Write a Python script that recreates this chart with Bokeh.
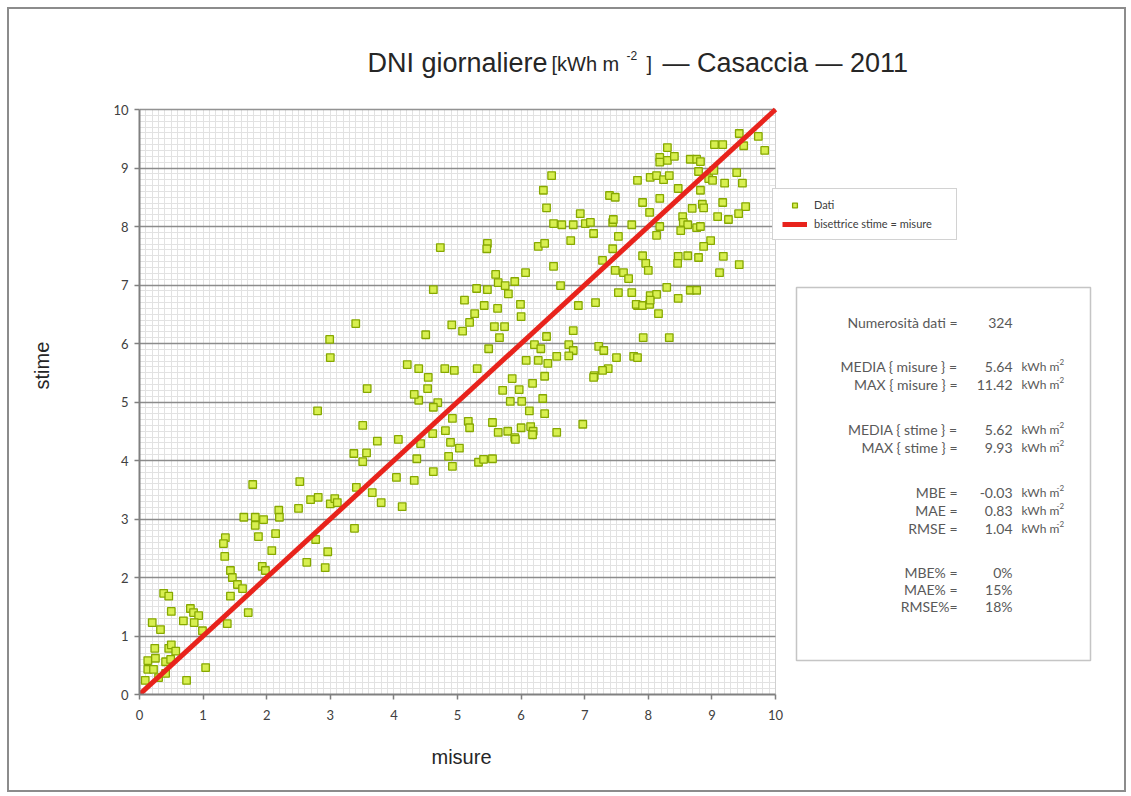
from bokeh.plotting import figure
from bokeh.models import (Range1d, Label, BoxAnnotation, Legend, LegendItem,
                          SingleIntervalTicker, Title)
from bokeh.embed import file_html
from bokeh.resources import INLINE

# ---------------- data ----------------
misure = [
    0.09, 0.13, 0.22, 0.30, 0.41, 0.13, 0.25, 0.41, 0.49, 0.24, 0.46, 0.50, 0.57, 0.74, 1.04,
    0.20, 0.33, 0.38, 0.46, 0.50, 0.69, 0.80, 0.85, 0.93, 0.86, 0.99, 1.38, 1.71, 1.43, 1.43,
    1.46, 1.54, 1.62, 1.35, 1.32, 1.34, 1.93, 1.98, 2.08, 1.87, 2.14, 1.64, 1.82, 1.95, 1.82,
    2.19, 2.20, 2.50, 1.78, 2.52, 2.69, 2.81, 3.00, 3.07, 3.11, 2.63, 2.96, 2.92, 2.77, 3.38,
    2.80, 3.51, 3.74, 4.07, 3.37, 3.57, 3.51, 3.41, 3.66, 3.80, 4.04, 4.13, 4.32, 4.36, 4.62,
    4.92, 4.86, 4.89, 5.03, 4.81, 4.61, 4.42, 4.92, 5.17, 4.39, 4.69, 4.62, 3.40, 2.99, 3.00,
    3.58,
    4.73, 5.47, 5.46, 6.27, 6.37, 6.78, 6.51, 6.64, 6.82, 7.01, 7.09, 7.14, 7.44, 7.74, 7.53,
    7.44, 6.51, 7.28, 6.07, 5.60, 5.64, 5.75, 5.90, 5.80, 6.62, 4.62, 5.30, 5.47, 7.48, 7.61,
    7.69, 7.53, 7.74, 7.83, 5.11, 5.42, 5.63, 5.99, 6.00, 6.90, 7.17, 5.27, 5.19, 4.91, 5.08,
    5.58, 5.74, 4.50, 5.66, 6.82, 6.40, 5.49, 6.21, 6.31, 6.75, 6.82, 6.75, 7.22, 7.30, 7.50,
    7.77, 6.56, 6.08, 6.27, 6.42, 7.37, 7.28, 7.15, 7.14, 4.21, 4.39, 4.80, 4.95, 5.31, 4.54,
    5.86, 6.37, 6.18, 4.53, 5.71, 5.97, 4.32, 5.83, 6.01, 6.34, 6.13, 6.37, 5.19, 5.55, 6.97,
    5.64, 5.79, 6.00, 6.15, 6.19, 6.18, 5.90, 5.91, 6.56, 5.33, 5.41, 5.55,
    7.92, 8.33, 7.83,
    9.43, 9.73, 9.04, 9.17, 9.50, 9.83, 8.30, 8.18, 8.30, 8.41, 8.18, 8.66, 8.76, 8.82, 8.79,
    9.39, 9.03, 8.95, 9.01, 8.03, 8.13, 8.24, 8.33, 7.83, 9.20, 9.48, 8.47, 8.82, 7.39, 7.48,
    8.18, 7.91, 9.17, 8.85, 8.87, 9.53, 8.69, 9.42, 8.02, 6.93, 9.09, 9.26, 7.45, 8.18, 8.54,
    8.55, 8.62, 8.76, 8.82, 8.51, 8.13, 8.98, 8.87, 7.91, 7.96, 8.00, 8.47, 8.62, 8.46, 8.79,
    9.18, 9.43, 9.12, 8.29, 8.66, 8.76, 8.03, 8.13, 8.47, 7.81, 7.91, 8.02, 8.03, 8.16,
    6.35, 6.48, 6.40,
]
stime = [
    0.24, 0.43, 0.43, 0.29, 0.36, 0.58, 0.62, 0.56, 0.60, 0.79, 0.79, 0.85, 0.74, 0.24, 0.46,
    1.23, 1.11, 1.73, 1.68, 1.42, 1.26, 1.47, 1.40, 1.35, 1.23, 1.09, 1.21, 1.40, 1.68, 2.12,
    2.00, 1.88, 1.81, 2.68, 2.58, 2.36, 2.19, 2.12, 2.46, 2.70, 2.75, 3.03, 3.03, 2.99, 2.89,
    3.15, 3.03, 3.18, 3.59, 3.64, 3.33, 3.37, 3.26, 3.35, 3.28, 2.26, 2.44, 2.17, 2.65, 2.84,
    4.85, 4.60, 4.33, 4.36, 4.12, 4.13, 3.98, 3.54, 3.45, 3.28, 3.71, 3.21, 3.66, 4.03, 3.81,
    3.90, 4.07, 4.31, 4.21, 4.51, 4.46, 4.29, 4.72, 4.67, 5.03, 4.99, 4.91, 6.34, 6.07, 5.76,
    5.23,
    7.64, 7.71, 7.62, 7.66, 7.71, 7.76, 8.05, 8.03, 8.03, 8.05, 8.07, 7.88, 8.07, 8.03, 7.83,
    7.62, 7.32, 7.42, 7.21, 7.18, 7.04, 6.99, 7.06, 6.85, 6.99, 6.92, 6.94, 6.92, 7.25, 7.21,
    7.11, 6.87, 6.87, 6.65, 6.74, 6.65, 6.60, 6.67, 6.46, 6.65, 6.70, 6.51, 6.36, 6.32, 6.21,
    6.29, 6.29, 6.15, 6.10, 6.22, 6.12, 5.91, 5.98, 5.91, 5.98, 5.88, 5.79, 5.95, 5.88, 5.76,
    5.78, 5.78, 5.71, 5.71, 5.66, 5.57, 5.54, 5.45, 5.42, 5.64, 5.57, 5.57, 5.54, 5.57, 5.42,
    5.40, 5.44, 5.32, 5.23, 5.20, 5.21, 5.13, 5.01, 5.01, 5.06, 4.85, 4.80, 4.56, 4.65, 4.62,
    4.48, 4.50, 4.56, 4.58, 4.50, 4.44, 4.39, 4.36, 4.48, 3.97, 4.02, 4.03,
    6.10, 6.10, 5.76,
    9.59, 9.54, 9.40, 9.40, 9.38, 9.30, 9.35, 9.18, 9.13, 9.20, 9.10, 9.15, 9.15, 9.11, 8.94,
    8.92, 8.96, 8.82, 8.79, 8.84, 8.87, 8.80, 8.87, 8.79, 8.74, 8.74, 8.65, 8.62, 8.53, 8.50,
    8.48, 8.41, 8.41, 8.38, 8.32, 8.34, 8.31, 8.22, 8.24, 8.22, 8.17, 8.12, 8.12, 8.00, 8.17,
    8.07, 8.03, 7.98, 8.00, 7.93, 7.85, 7.76, 7.66, 7.50, 7.37, 7.25, 7.49, 7.50, 7.37, 7.47,
    7.49, 7.35, 7.21, 6.96, 6.91, 6.91, 6.82, 6.84, 6.77, 6.67, 6.65, 6.67, 6.74, 6.51,
    8.62, 8.87, 8.32,
]
bisettrice_x = [0, 10]
bisettrice_y = [0, 10]
axis_bounds = (0, 10)

stat_labels = ["Numerosità dati =", "MEDIA { misure } =", "MAX { misure } =",
               "MEDIA { stime } =", "MAX { stime } =", "MBE =", "MAE =", "RMSE =",
               "MBE% =", "MAE% =", "RMSE%="]
stat_values = ["324", "5.64", "11.42", "5.62", "9.93", "-0.03", "0.83", "1.04", "0%", "15%", "18%"]
stat_units = ["", "kWh m", "kWh m", "kWh m", "kWh m", "kWh m", "kWh m", "kWh m", "", "", ""]

# ---------------- layout constants (page pixels) ----------------
FL, FB = 139, 694          # plot-area left / bottom on the page
FR, FT = 1105, 25          # frame (drawing area) right / top on the page
PXX, PXY = 63.6, 58.5      # pixels per data unit
stat_rows_y = [322, 366, 384, 429, 447, 492, 510, 528, 572, 589, 606]


def dx(px):
    return (px - FL) / PXX


def dy(py):
    return (FB - py) / PXY


p = figure(frame_width=FR - FL, frame_height=FB - FT,
           x_range=Range1d(0, dx(FR)), y_range=Range1d(0, dy(FT)),
           output_backend="svg", toolbar_location=None,
           min_border_left=FL - 9, min_border_right=1124 - FR,
           min_border_top=FT - 9, min_border_bottom=96,
           background_fill_color="white", border_fill_color="white")
p.styles = {"border": "2px solid #8c8c8c", "margin-left": "7px", "margin-top": "7px"}
p.outline_line_color = None

p.xaxis.ticker = SingleIntervalTicker(interval=1, num_minor_ticks=10)
p.yaxis.ticker = SingleIntervalTicker(interval=1, num_minor_ticks=10)

# grids limited to the 0..10 square
p.xgrid.bounds = axis_bounds
p.ygrid.bounds = axis_bounds
p.xgrid.cross_bounds = axis_bounds
p.ygrid.cross_bounds = axis_bounds
p.xgrid.grid_line_color = "#e2e2e2"
p.xgrid.grid_line_width = 1
p.xgrid.minor_grid_line_color = "#e2e2e2"
p.xgrid.minor_grid_line_width = 1
p.ygrid.grid_line_color = "#8c8c8c"
p.ygrid.grid_line_width = 1.5
p.ygrid.minor_grid_line_color = "#e2e2e2"
p.ygrid.minor_grid_line_width = 1

# plot-area border
p.add_layout(BoxAnnotation(left=0, right=10, bottom=0, top=10, fill_alpha=0,
                           line_color="#a6a6a6", line_width=1, level="underlay"))

for ax in (p.xaxis[0], p.yaxis[0]):
    ax.bounds = axis_bounds
    ax.axis_line_color = "#808080"
    ax.axis_line_width = 2
    ax.major_tick_line_color = "#808080"
    ax.major_tick_line_width = 1.5
    ax.major_tick_out = 5
    ax.major_tick_in = 0
    ax.minor_tick_line_color = None
    ax.major_label_text_font = "Lato"
    ax.major_label_text_font_size = "13px"
    ax.major_label_text_color = "#404040"
    ax.axis_label_text_font = "Liberation Sans"
    ax.axis_label_text_font_size = "20px"
    ax.axis_label_text_font_style = "normal"
    ax.axis_label_text_color = "#262626"

p.yaxis.axis_label = "stime" + "\u00a0" * 2
p.xaxis.major_label_standoff = 10
p.yaxis.major_label_standoff = 6
p.yaxis.axis_label_standoff = 57

# x-axis title, placed under the 0..10 part of the axis
p.add_layout(Title(text="misure", align="left", offset=431 - FL, standoff=42,
                   text_font="Liberation Sans", text_font_size="20px",
                   text_font_style="normal", text_color="#262626"), "below")

sc = p.scatter(misure, stime, marker="square", size=7.5,
               fill_color="#d8ef50", line_color="#86a800", line_width=1.3)
ln = p.line(bisettrice_x, bisettrice_y, line_color="#e8231c", line_width=5)

legend = Legend(items=[LegendItem(label="Dati", renderers=[sc]),
                       LegendItem(label="bisettrice stime = misure", renderers=[ln])],
                location=(772 - FL, FB - 240),
                label_text_font="Lato", label_text_font_size="11px",
                label_text_color="#404040",
                glyph_width=25, glyph_height=12, label_height=12,
                label_width=133, label_standoff=7,
                spacing=6, padding=9, margin=0,
                border_line_color="#a6a6a6", border_line_width=1,
                background_fill_color="white", background_fill_alpha=1)
p.add_layout(legend)


def tlabel(text, px, py, size, font="Liberation Sans", align="left",
           baseline="middle", color="#262626"):
    return Label(x=dx(px), y=dy(py), text=text, text_font=font,
                 text_font_size=f"{size}px", text_align=align,
                 text_baseline=baseline, text_color=color)


# title
p.add_layout(tlabel("DNI giornaliere", 367, 62, 27))
p.add_layout(tlabel("[kWh m", 551, 63, 20))
p.add_layout(tlabel("-2", 626, 55, 12))
p.add_layout(tlabel("]", 646, 63, 20))
p.add_layout(tlabel("— Casaccia — 2011", 662, 62, 27))

# statistics box
p.add_layout(BoxAnnotation(left=dx(796), right=dx(1090), top=dy(287), bottom=dy(660),
                           fill_color="white", fill_alpha=1,
                           line_color="#404040", line_width=1.5, level="annotation"))

for lab, val, unit, ry in zip(stat_labels, stat_values, stat_units, stat_rows_y):
    p.add_layout(tlabel(lab, 957, ry, 14, font="Lato", align="right", color="#595959"))
    p.add_layout(tlabel(val, 1012, ry, 14, font="Lato", align="right", color="#595959"))
    if unit:
        p.add_layout(tlabel(unit, 1021, ry, 12, font="Lato", color="#595959"))
        p.add_layout(tlabel("-2", 1056, ry - 5, 8, font="Lato", color="#595959"))

open("out.html", "w").write(file_html(p, INLINE))
